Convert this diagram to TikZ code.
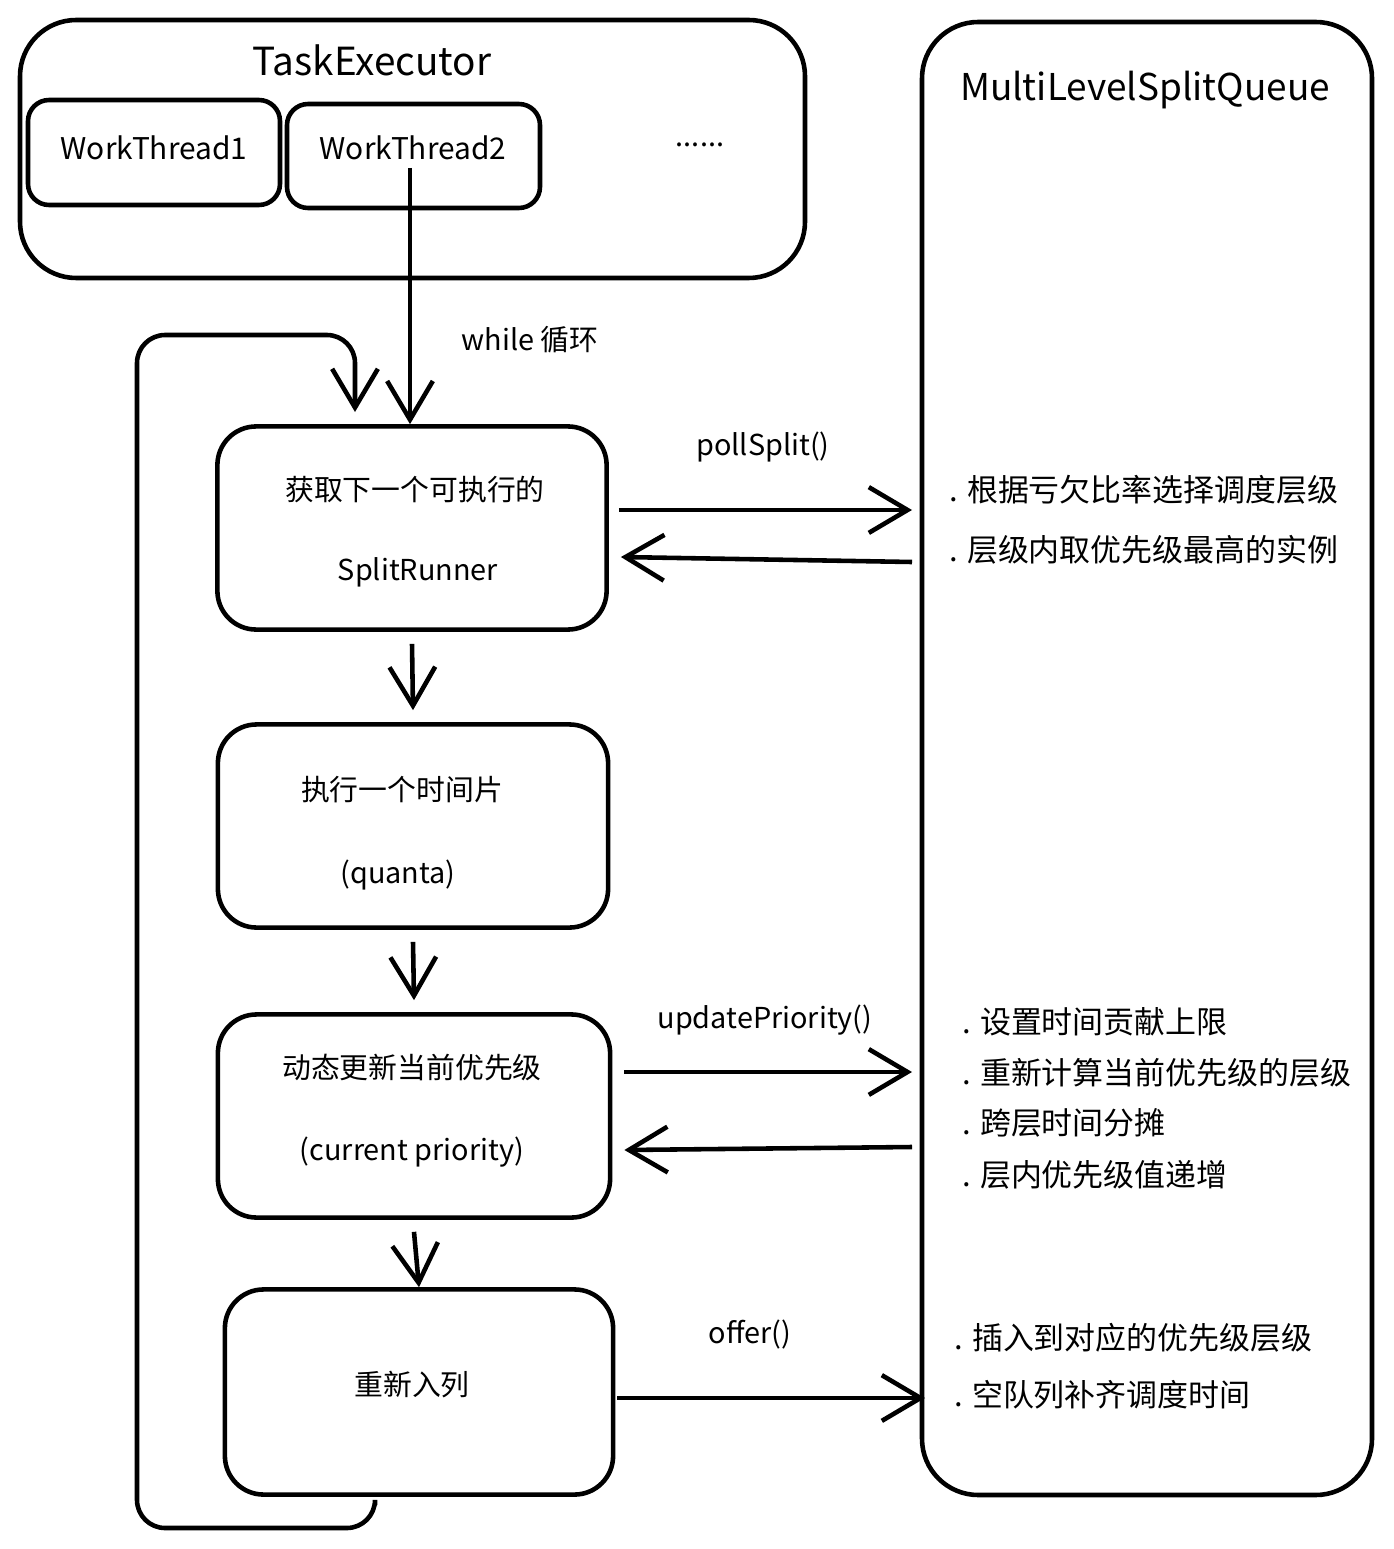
\documentclass[tikz,border=0pt]{standalone}
\usepackage{fontspec}
\setmainfont{Noto Sans CJK SC}
\usetikzlibrary{arrows.meta,calc}
\tikzset{
  box/.style = {draw=black, line width=1.3pt, rounded corners=#1},
  box/.default = 11pt,
  flow/.style = {line width=1.3pt, -{Straight Barb[length=11pt,width=13pt,line width=1.3pt]}},
  lbl/.style = {font=\fontsize{8.2}{10}\selectfont, inner sep=1pt},
  note/.style = {font=\fontsize{8.8}{10}\selectfont, anchor=west, inner sep=1pt}
}
\begin{document}
\begin{tikzpicture}[x=0.01cm,y=-0.01cm]
    \useasboundingbox (0,0) rectangle (1393,1549);

    % Containers
    \draw[box=16pt] (20,20) rectangle (805,278);
    \node[font=\fontsize{11}{13}\selectfont] (exec) at (372,60) {TaskExecutor};
    \draw[box=6pt] (28,100) rectangle (280,205);
    \node[lbl, font=\fontsize{8.5}{10}\selectfont] (wt1) at (154,148) {WorkThread1};
    \draw[box=6pt] (287,104) rectangle (540,208);
    \node[lbl, font=\fontsize{8.5}{10}\selectfont] (wt2) at (413,148) {WorkThread2};
    \node[lbl] (dots) at (700,145) {......};

    \draw[box=16pt] (922,22) rectangle (1372,1495);
    \node[font=\fontsize{10.5}{13}\selectfont] (queue) at (1145,90) {MultiLevelSplitQueue};

    % Steps
    \node[box, minimum width=3.89cm, minimum height=2.03cm] (fetch) at (412,528) {};
    \node[lbl] at (415,490) {获取下一个可执行的};
    \node[lbl] at (418,572) {SplitRunner};
    \node[box, minimum width=3.90cm, minimum height=2.03cm] (exe) at (413,826) {};
    \node[lbl] at (402,790) {执行一个时间片};
    \node[lbl] at (398,875) {(quanta)};
    \node[box, minimum width=3.92cm, minimum height=2.03cm] (upd) at (414,1116) {};
    \node[lbl] at (412,1068) {动态更新当前优先级};
    \node[lbl] at (412,1152) {(current priority)};
    \node[box, minimum width=3.88cm, minimum height=2.05cm] (requeue) at (419,1392) {};
    \node[lbl] at (412,1385) {重新入列};

    % Flow
    \coordinate (wtBot) at (410,168);
    \draw[flow] (wtBot) -- (fetch.north -| wtBot);
    \node[lbl] at (530,340) {while 循环};
    \draw[flow] ($(fetch.south)+(0,12)$) -- ($(exe.north)+(0,-12)$);
    \draw[flow] ($(exe.south)+(0,12)$) -- ($(upd.north)+(0,-12)$);
    \draw[flow] ($(upd.south)+(0,12)$) -- (requeue.north);
    \coordinate (loopA) at (375,1505);
    \draw[flow, rounded corners=8pt] (loopA) -- (375,1528) -- (137,1528) -- (137,335) -- (355,335) -- (355,412);

    % Calls
    \coordinate (qa) at (912,510);
    \coordinate (qb) at (912,562);
    \draw[flow] ($(fetch.east)+(10,-18)$) -- (qa);
    \node[lbl] at (763,447) {pollSplit()};
    \draw[flow] (qb) -- ($(fetch.east)+(12,29)$);
    \coordinate (qc) at (912,1072);
    \coordinate (qd) at (912,1147);
    \draw[flow] ($(upd.east)+(12,-44)$) -- (qc);
    \node[lbl] at (765,1020) {updatePriority()};
    \draw[flow] (qd) -- ($(upd.east)+(12,34)$);
    \coordinate (qe) at (925,1398);
    \draw[flow] ($(requeue.east)+(2,6)$) -- (qe);
    \node[lbl] at (750,1335) {offer()};

    % Notes
    \node[note] at (945,490) {. 根据亏欠比率选择调度层级};
    \node[note] at (945,550) {. 层级内取优先级最高的实例};
    \node[note] at (958,1022) {. 设置时间贡献上限};
    \node[note] at (958,1073) {. 重新计算当前优先级的层级};
    \node[note] at (958,1123) {. 跨层时间分摊};
    \node[note] at (958,1175) {. 层内优先级值递增};
    \node[note] at (950,1338) {. 插入到对应的优先级层级};
    \node[note] at (950,1395) {. 空队列补齐调度时间};
\end{tikzpicture}
\end{document}
